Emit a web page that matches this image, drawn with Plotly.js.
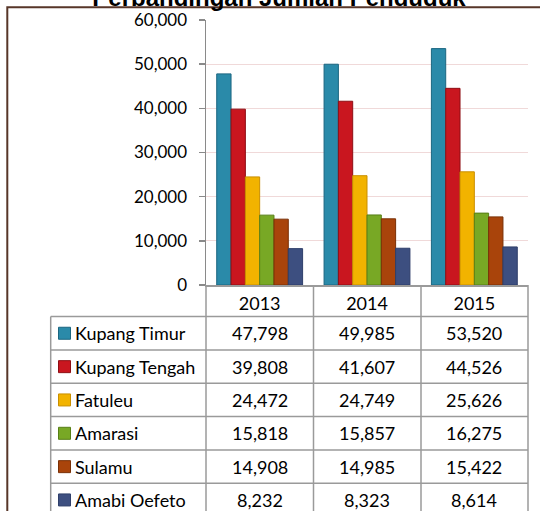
<!DOCTYPE html>
<html>
<head>
<meta charset="utf-8">
<script src="https://cdn.plot.ly/plotly-3.0.1.min.js"></script>
<style>html,body{margin:0;padding:0;background:#fff;}#chart{width:540px;height:511px;}</style>
</head>
<body>
<div id="chart"></div>
<script>
// ---- data ----
var years = ['2013', '2014', '2015'];
var seriesNames = ['Kupang Timur', 'Kupang Tengah', 'Fatuleu', 'Amarasi', 'Sulamu', 'Amabi Oefeto'];
var kupangTimur  = [47798, 49985, 53520];
var kupangTengah = [39808, 41607, 44526];
var fatuleu      = [24472, 24749, 25626];
var amarasi      = [15818, 15857, 16275];
var sulamu       = [14908, 14985, 15422];
var amabiOefeto  = [8232, 8323, 8614];
var seriesValues = [kupangTimur, kupangTengah, fatuleu, amarasi, sulamu, amabiOefeto];
var yTicks = [0, 10000, 20000, 30000, 40000, 50000, 60000];

// ---- styles ----
var fillColors = ['#2a8aa9', '#c9161f', '#f2b300', '#78a825', '#a9440b', '#3d4f80'];
var edgeColors = ['#1b6680', '#8e0e14', '#c98f00', '#577f16', '#7a3006', '#2f3f6a'];
var FONT = 'Lato, "Noto Sans", sans-serif';
var TABLE_SIZE = 18;

// pixel geometry of the plot area
var L = 206, R = 528, T = 20, B = 285, W = 540, H = 511;
function xp(px) { return (px - L) / (R - L); }
function yp(py) { return (B - py) / (B - T); }

var traces = seriesNames.map(function (name, i) {
  return {
    type: 'bar',
    name: name,
    x: years,
    y: seriesValues[i],
    marker: { color: fillColors[i], line: { color: edgeColors[i], width: 1 } },
    hoverinfo: 'x+y+name'
  };
});

// ---- table (below the plot) ----
var shapes = [];
var annotations = [];
var lineStyle = { color: '#9a9a9a', width: 1.5 };
var colEdges = [206, 313.5, 421, 528];
var rowEdges = [316.5, 350, 383.3, 416.6, 450, 483.3, 516.6];
var labelLeft = 50.7;

// outer dark frame
shapes.push({ type: 'rect', xref: 'paper', yref: 'paper', x0: xp(7.3), x1: xp(560), y0: yp(7.3), y1: yp(530),
  line: { color: '#573629', width: 2 }, fillcolor: 'rgba(0,0,0,0)', layer: 'below' });

// vertical lines
colEdges.forEach(function (cx) {
  shapes.push({ type: 'line', xref: 'paper', yref: 'paper', x0: xp(cx), x1: xp(cx), y0: yp(285), y1: yp(525), line: lineStyle });
});
shapes.push({ type: 'line', xref: 'paper', yref: 'paper', x0: xp(labelLeft), x1: xp(labelLeft), y0: yp(rowEdges[0]), y1: yp(525), line: lineStyle });
// horizontal lines
rowEdges.forEach(function (ry) {
  shapes.push({ type: 'line', xref: 'paper', yref: 'paper', x0: xp(labelLeft), x1: xp(R), y0: yp(ry), y1: yp(ry), line: lineStyle });
});

seriesNames.forEach(function (name, i) {
  var cy = (rowEdges[i] + rowEdges[i + 1]) / 2;
  // legend key
  shapes.push({ type: 'rect', xref: 'paper', yref: 'paper', x0: xp(58.5), x1: xp(70.5), y0: yp(cy - 6), y1: yp(cy + 6),
    fillcolor: fillColors[i], line: { color: edgeColors[i], width: 1 } });
  annotations.push({ xref: 'paper', yref: 'paper', x: xp(73), y: yp(cy), xanchor: 'left', yanchor: 'middle',
    text: name, showarrow: false, font: { family: FONT, size: TABLE_SIZE, color: '#000' } });
  years.forEach(function (yr, j) {
    annotations.push({ xref: 'x', yref: 'paper', x: j, y: yp(cy), xanchor: 'center', yanchor: 'middle',
      text: seriesValues[i][j].toLocaleString('en-US'), showarrow: false,
      font: { family: FONT, size: TABLE_SIZE, color: '#000' } });
  });
});

var layout = {
  width: W, height: H,
  margin: { l: L, r: W - R, t: T, b: H - B, pad: 0 },
  paper_bgcolor: '#ffffff',
  plot_bgcolor: '#ffffff',
  showlegend: false,
  barmode: 'group',
  bargap: 0.2,
  bargroupgap: 0,
  title: {
    text: '<b>Perbandingan Jumlah Penduduk</b>',
    font: { family: '"Liberation Sans", Arial, sans-serif', size: 24, color: '#000' },
    xref: 'container', yref: 'container', x: 279 / W, xanchor: 'center',
    y: 1 - 6 / H, yanchor: 'bottom'
  },
  xaxis: {
    type: 'category',
    range: [-0.5, 2.5],
    showline: true, linecolor: '#9a9a9a', linewidth: 1.5,
    ticks: '', showgrid: false, zeroline: false,
    tickfont: { family: FONT, size: TABLE_SIZE, color: '#000' },
    ticklabelstandoff: 2,
    fixedrange: true
  },
  yaxis: {
    range: [0, 60000],
    tickvals: yTicks,
    tickformat: ',d',
    showline: true, linecolor: '#8a8a8a', linewidth: 1.5,
    ticks: 'outside', ticklen: 6, tickcolor: '#8a8a8a', tickwidth: 1.5,
    showgrid: true, gridcolor: '#f0d9d9', gridwidth: 1,
    zeroline: false,
    tickfont: { family: FONT, size: 17, color: '#000' },
    ticklabelstandoff: 8,
    fixedrange: true
  },
  shapes: shapes,
  annotations: annotations
};

Plotly.newPlot('chart', traces, layout, { displayModeBar: false, staticPlot: true });
</script>
</body>
</html>
